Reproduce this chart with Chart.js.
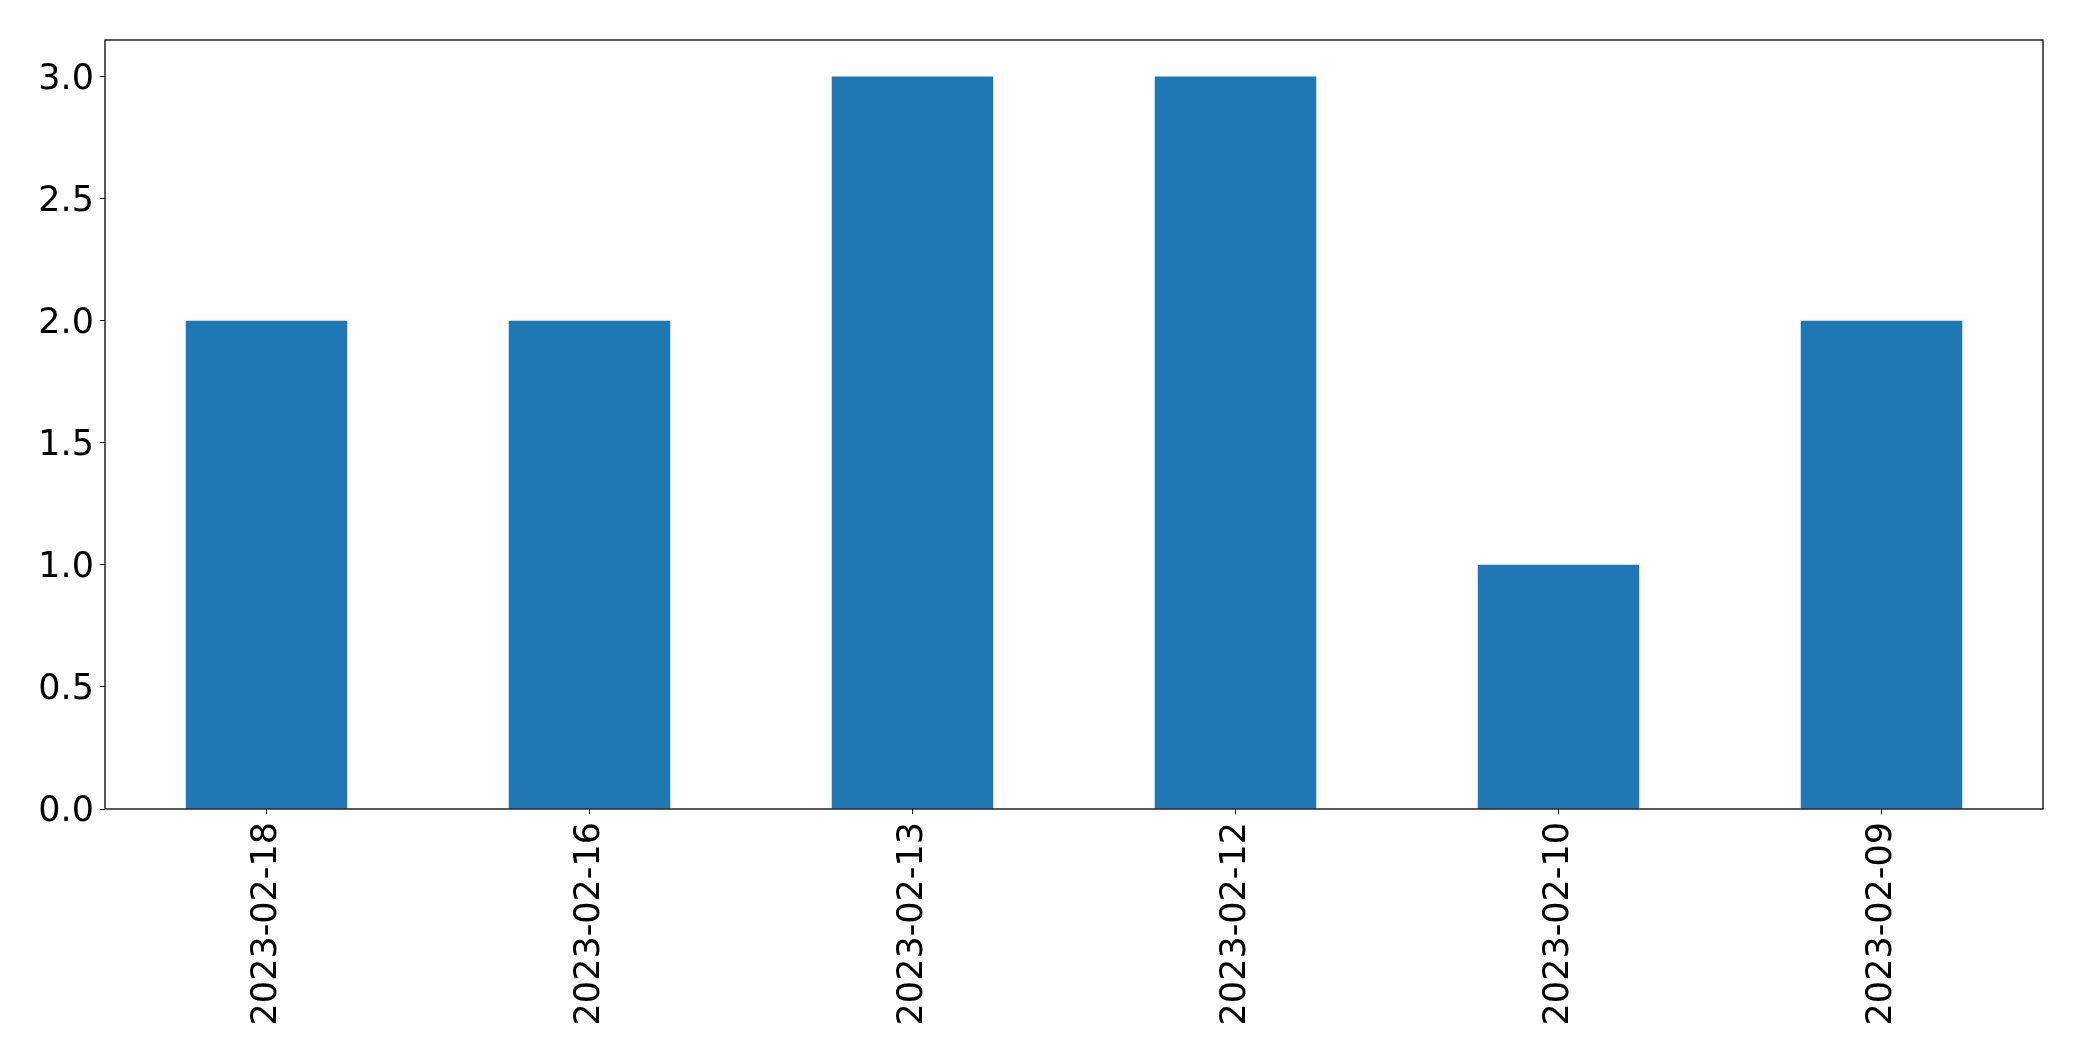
<!DOCTYPE html>
<html>
<head>
<meta charset="utf-8">
<script src="https://cdn.jsdelivr.net/npm/chart.js@4"></script>
<style>
    html, body { margin: 0; padding: 0; background: #fff; }
    #wrap { width: 2082px; height: 1061px; }
</style>
</head>
<body>
<div id="wrap"><canvas id="myChart" width="2082" height="1061"></canvas></div>
<script>
const dates = ['2023-02-18', '2023-02-16', '2023-02-13', '2023-02-12', '2023-02-10', '2023-02-09'];
const counts = [2, 2, 3, 3, 1, 2];
const yTicks = [0, 0.5, 1, 1.5, 2, 2.5, 3];

// box round the plot area, like matplotlib's spines
const frame = {
    id: 'frame',
    afterDraw(chart) {
        const a = chart.chartArea;
        const ctx = chart.ctx;
        ctx.save();
        ctx.strokeStyle = '#000';
        ctx.lineWidth = 1.3;
        ctx.strokeRect(a.left, a.top, a.right - a.left, a.bottom - a.top);
        ctx.restore();
    }
};

const tickFont = { family: 'DejaVu Sans', size: 35 };

const config = {
    type: 'bar',
    data: {
        labels: dates,
        datasets: [{
            data: counts,
            backgroundColor: '#1f77b4',
            borderWidth: 0,
            categoryPercentage: 1.0,
            barPercentage: 0.5,
        }]
    },
    options: {
        responsive: false,
        animation: false,
        layout: { padding: { left: 0, top: 40, right: 39, bottom: 0 } },
        plugins: { legend: { display: false }, tooltip: { enabled: false } },
        scales: {
            x: {
                grid: { drawOnChartArea: false, drawTicks: true, tickLength: 5, color: '#000', offset: false },
                border: { display: false },
                ticks: { color: '#000', font: tickFont, minRotation: 90, maxRotation: 90, padding: 8, autoSkip: false },
                afterFit(scale) { scale.height = 252; }
            },
            y: {
                min: 0,
                max: 3.15,
                afterBuildTicks(scale) { scale.ticks = yTicks.map(v => ({ value: v })); },
                grid: { drawOnChartArea: false, drawTicks: true, tickLength: 5, color: '#000' },
                border: { display: false },
                ticks: { color: '#000', font: tickFont, padding: 6, labelOffset: 3, callback: v => v.toFixed(1) },
                afterFit(scale) { scale.width = 105; }
            }
        }
    },
    plugins: [frame]
};

const myChart = new Chart(document.getElementById('myChart'), config);
</script>
</body>
</html>
